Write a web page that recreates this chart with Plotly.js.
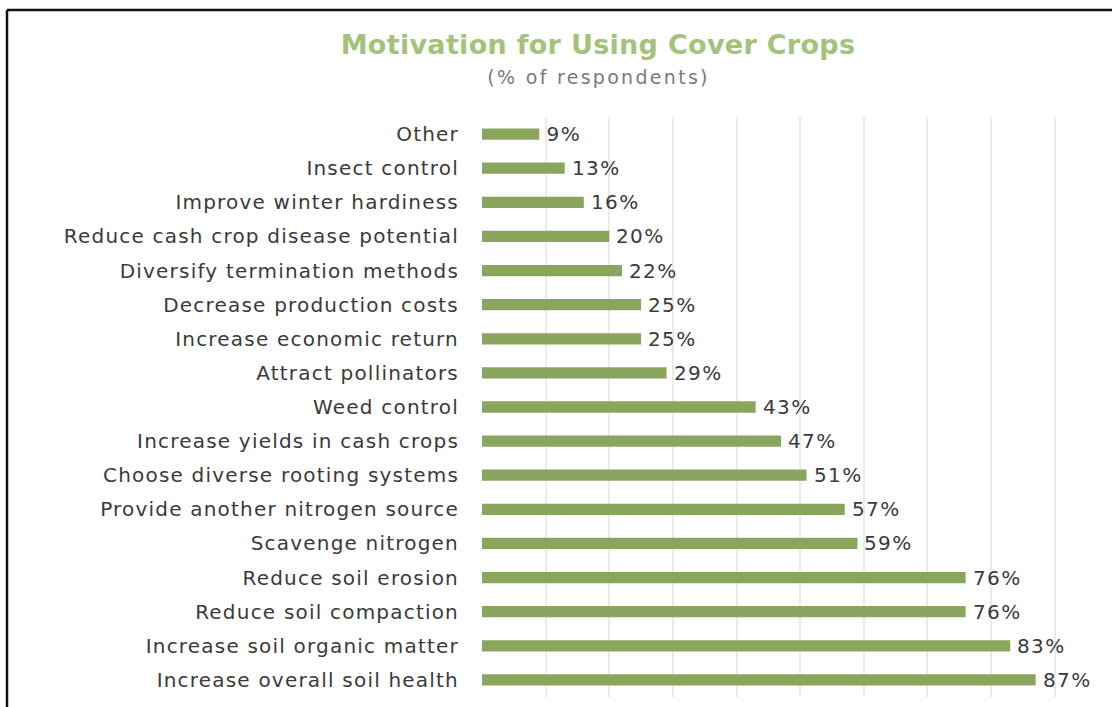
<!DOCTYPE html>
<html>
<head>
<meta charset="utf-8">
<script src="https://cdn.plot.ly/plotly-3.0.1.min.js"></script>
<style>
  html, body { margin: 0; padding: 0; background: #ffffff; }
  #chart { width: 1112px; height: 707px; }
  #chart .ytick text { letter-spacing: 1.2px; }
  #chart .annotation-text { letter-spacing: 1.4px; }
  #chart .annotation[data-index="17"] .annotation-text { letter-spacing: 2.3px; }
  #chart .gtitle { letter-spacing: 0.3px; }
</style>
</head>
<body>
<div id="chart"></div>
<script>
const categories = [
  "Other",
  "Insect control",
  "Improve winter hardiness",
  "Reduce cash crop disease potential",
  "Diversify termination methods",
  "Decrease production costs",
  "Increase economic return",
  "Attract pollinators",
  "Weed control",
  "Increase yields in cash crops",
  "Choose diverse rooting systems",
  "Provide another nitrogen source",
  "Scavenge nitrogen",
  "Reduce soil erosion",
  "Reduce soil compaction",
  "Increase soil organic matter",
  "Increase overall soil health"
];
const percentValues = [9, 13, 16, 20, 22, 25, 25, 29, 43, 47, 51, 57, 59, 76, 76, 83, 87];
const gridTicks = [10, 20, 30, 40, 50, 60, 70, 80, 90];
const titleText = "Motivation for Using Cover Crops";
const subtitleText = "(% of respondents)";

const labelFont = { family: "DejaVu Sans, sans-serif", size: 20, color: "#3a3a3a" };

const trace = {
  type: "bar",
  orientation: "h",
  x: percentValues,
  y: categories,
  marker: { color: "#8aa65e" },
  width: 0.33,
  hoverinfo: "x+y"
};

const valueAnnotations = percentValues.map((v, i) => ({
  x: v, y: categories[i], xref: "x", yref: "y",
  text: v + "%", showarrow: false, xanchor: "left", yanchor: "middle",
  xshift: 7, font: labelFont
}));

const layout = {
  width: 1112, height: 707,
  margin: { l: 482, r: 0, t: 117, b: 10 },
  paper_bgcolor: "#ffffff", plot_bgcolor: "#ffffff",
  showlegend: false,
  title: {
    text: titleText,
    font: { family: "DejaVu Sans, sans-serif", size: 27, color: "#a4c27b", weight: "bold" },
    xref: "container", yref: "container",
    x: 598 / 1112, y: 1 - 45 / 707, xanchor: "center", yanchor: "middle"
  },
  xaxis: {
    range: [0, 99], tickmode: "array", tickvals: gridTicks,
    showticklabels: false, showgrid: true, gridcolor: "#ebebeb", gridwidth: 1.5,
    zeroline: false, showline: false, fixedrange: true
  },
  yaxis: {
    type: "category", categoryorder: "array", categoryarray: categories,
    autorange: "reversed", showgrid: false, zeroline: false, showline: false,
    ticks: "", ticklabelstandoff: 22, tickfont: labelFont, fixedrange: true
  },
  annotations: valueAnnotations.concat([{
    xref: "paper", yref: "paper",
    x: (598 - 482) / 630, y: 1 + (117 - 77) / 580,
    text: subtitleText, showarrow: false, xanchor: "center", yanchor: "middle",
    font: { family: "DejaVu Sans, sans-serif", size: 19, color: "#7a7a7a" }
  }]),
  shapes: [
    { type: "line", xref: "paper", yref: "paper",
      x0: (7 - 482) / 630, x1: 1.05, y0: 1 + (117 - 10) / 580, y1: 1 + (117 - 10) / 580,
      line: { color: "#111111", width: 2.5 } },
    { type: "line", xref: "paper", yref: "paper",
      x0: (7 - 482) / 630, x1: (7 - 482) / 630, y0: 1 + (117 - 10) / 580, y1: -0.05,
      line: { color: "#111111", width: 2.5 } }
  ]
};

Plotly.newPlot("chart", [trace], layout, { displayModeBar: false, responsive: false });
</script>
</body>
</html>
